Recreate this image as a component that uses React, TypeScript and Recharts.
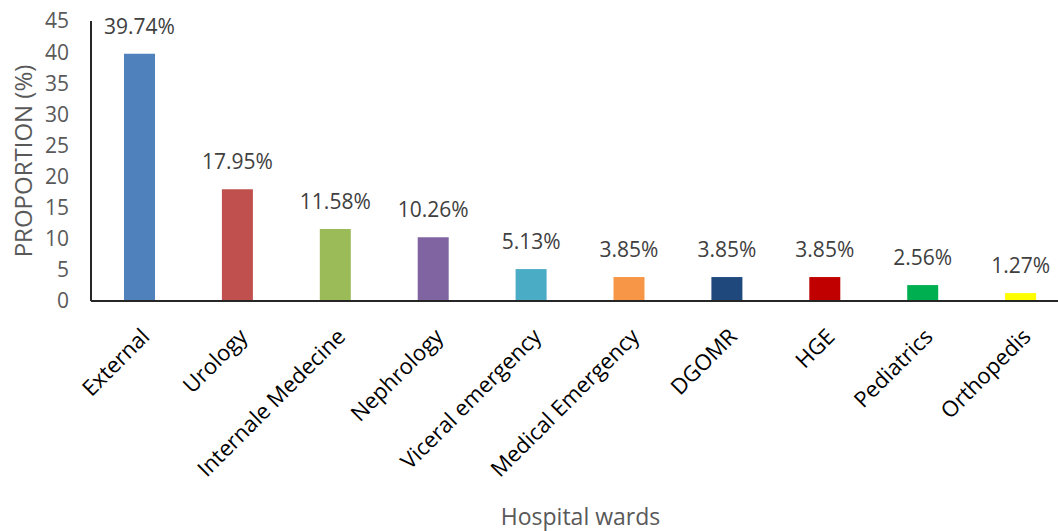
import React from "react";
import { BarChart, Bar, XAxis, YAxis, Cell, LabelList, Label } from "recharts";

const categories = [
  "External",
  "Urology",
  "Internale Medecine",
  "Nephrology",
  "Viceral emergency",
  "Medical Emergency",
  "DGOMR",
  "HGE",
  "Pediatrics",
  "Orthopedis",
];
const values = [39.74, 17.95, 11.58, 10.26, 5.13, 3.85, 3.85, 3.85, 2.56, 1.27];
const colors = [
  "#4F81BD",
  "#C0504D",
  "#9BBB59",
  "#8064A2",
  "#4BACC6",
  "#F79646",
  "#1F497D",
  "#C00000",
  "#00B050",
  "#FFFF00",
];
const yTicks = [0, 5, 10, 15, 20, 25, 30, 35, 40, 45];

const data = categories.map((name, i) => ({ name, value: values[i] }));

const FONT = "'Open Sans', sans-serif";

const XTick = (props: any) => {
  const { x, y, payload } = props;
  const ax = x + 11;
  const ay = y + 37;
  return (
    <text
      x={ax}
      y={ay}
      transform={`rotate(-45, ${ax}, ${ay})`}
      textAnchor="end"
      fill="#000000"
      fontSize={22}
      fontFamily={FONT}
    >
      {payload.value}
    </text>
  );
};

export default function App() {
  return (
    <div
      style={{
        position: "absolute",
        left: 0,
        top: 0,
        width: 1058,
        height: 531,
        overflow: "hidden",
        background: "#fff",
      }}
    >
      <BarChart
        width={1070}
        height={531}
        data={data}
        margin={{ top: 21, right: 0, bottom: 0, left: 0 }}
      >
        <XAxis
          dataKey="name"
          interval={0}
          height={230}
          tickSize={0}
          tickMargin={0}
          tick={<XTick />}
          axisLine={{ stroke: "#262626", strokeWidth: 2 }}
        >
          <Label
            value="Hospital wards"
            position="insideBottom"
            offset={6}
            fill="#595959"
            fontSize={23}
            fontFamily={FONT}
          />
        </XAxis>
        <YAxis
          domain={[0, 45]}
          ticks={yTicks}
          interval={0}
          width={91}
          tickSize={0}
          tickMargin={22}
          tick={{ fill: "#595959", fontSize: 21, fontFamily: FONT }}
          axisLine={{ stroke: "#262626", strokeWidth: 2 }}
        >
          <Label
            value="PROPORTION (%)"
            angle={-90}
            position="insideLeft"
            offset={23}
            fill="#595959"
            fontSize={24}
            fontFamily={FONT}
            style={{ textAnchor: "middle" }}
          />
        </YAxis>
        <Bar dataKey="value" barSize={31} isAnimationActive={false}>
          {data.map((d, i) => (
            <Cell key={d.name} fill={colors[i]} />
          ))}
          <LabelList
            dataKey="value"
            position="top"
            offset={20}
            formatter={(v: any) => `${Number(v).toFixed(2)}%`}
            fill="#404040"
            fontSize={21}
            fontFamily={FONT}
          />
        </Bar>
      </BarChart>
    </div>
  );
}
